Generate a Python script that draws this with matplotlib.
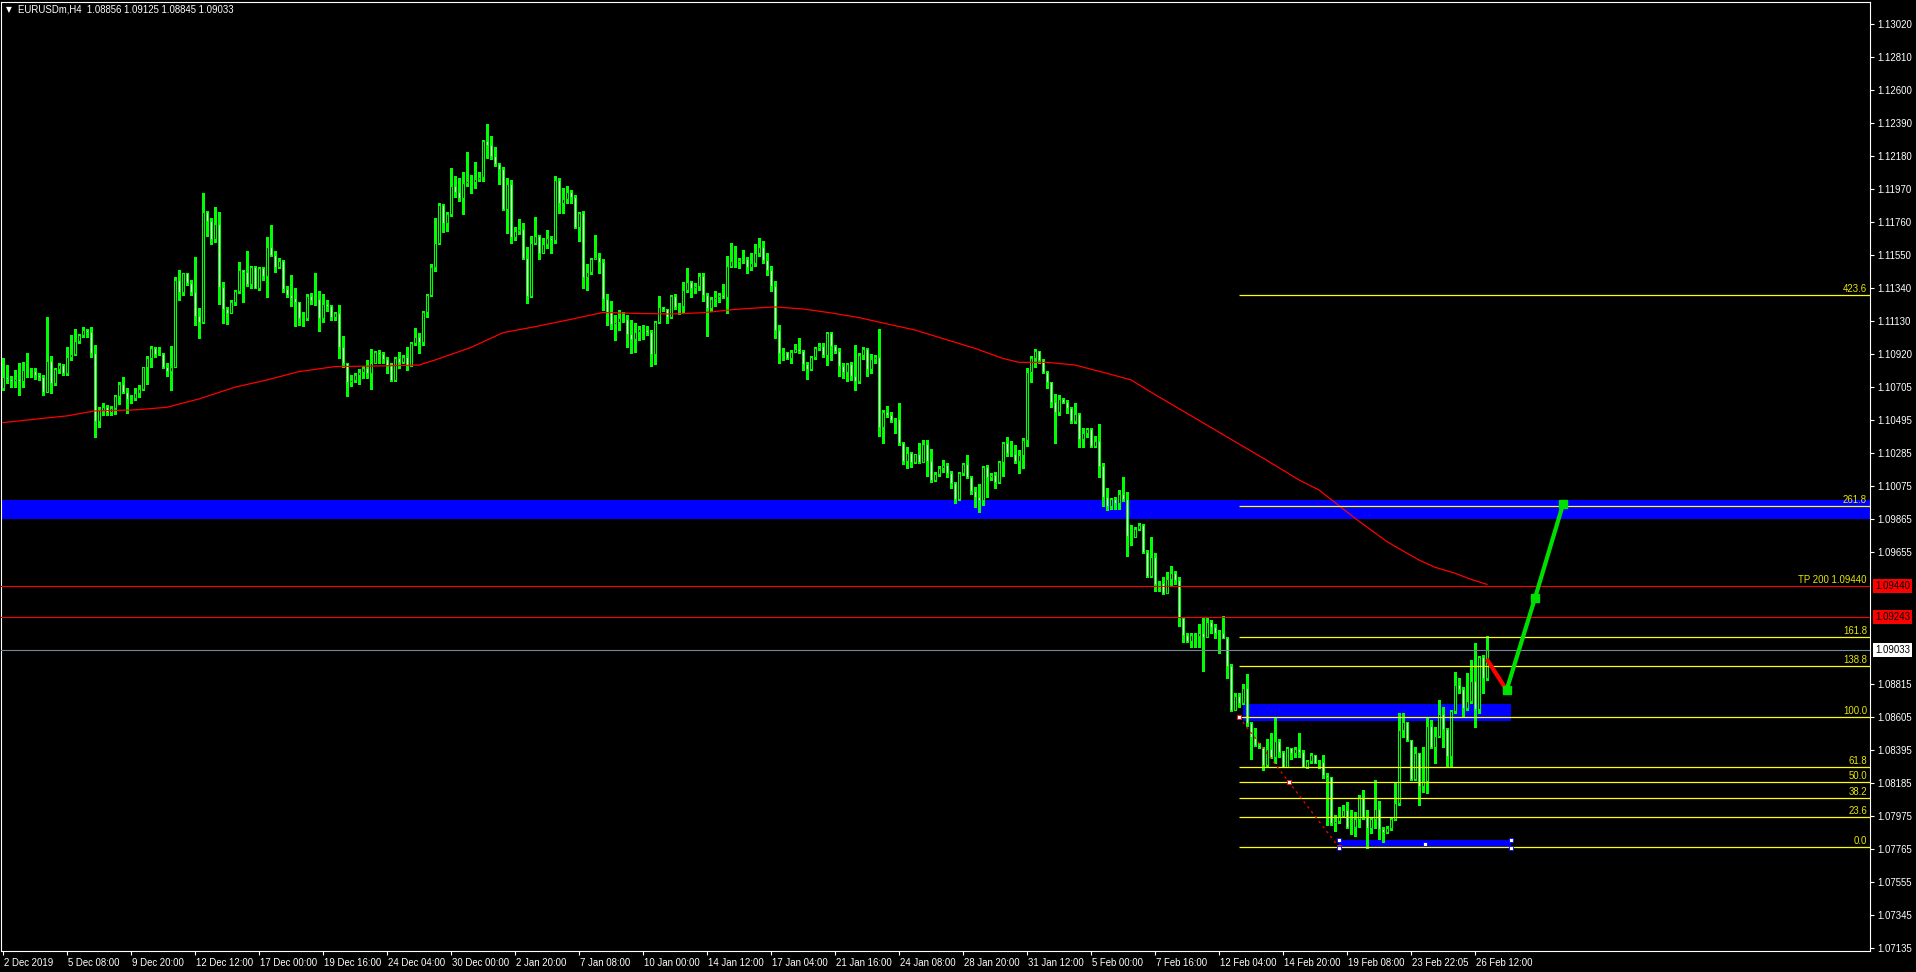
import matplotlib
matplotlib.use("Agg")
import matplotlib.pyplot as plt
from matplotlib.patches import Rectangle
from matplotlib.transforms import ScaledTranslation
import numpy as np

# ---------------------------------------------------------------- data
SYMBOL_TITLE = "EURUSDm,H4  1.08856 1.09125 1.08845 1.09033"
POINT = 1e-5                      # prices below are stored in points

first_open = 110700
closes = [
    110770, 110757, 110749, 110757, 110745, 110817, 110813, 110813, 110785, 110770,
    110679, 110874, 110736, 110821, 110847, 110794, 110898, 110919, 110999, 111040,
    111072, 111061, 110927, 110494, 110562, 110579, 110547, 110577, 110651, 110728,
    110679, 110632, 110639, 110668, 110696, 110834, 110893, 110955, 110919, 110919,
    110834, 110813, 110834, 111390, 111316, 111433, 111369, 111316, 111163, 111125,
    111825, 111768, 111649, 111745, 111348, 111203, 111182, 111248, 111318, 111454,
    111441, 111362, 111471, 111341, 111467, 111418, 111598, 111549, 111471, 111511,
    111331, 111295, 111273, 111248, 111146, 111150, 111290, 111263, 111267, 111146,
    111235, 111225, 111152, 111178, 110965, 110859, 110743, 110753, 110785, 110806,
    110828, 110800, 110864, 110929, 110919, 110884, 110848, 110752, 110890, 110869,
    110897, 110842, 110986, 111024, 110997, 111188, 111292, 111470, 111623, 111865,
    111754, 111810, 111988, 111952, 111909, 112009, 112022, 112016, 112033, 112047,
    112275, 112249, 112179, 112126, 112094, 111839, 112001, 111661, 111701, 111714,
    111527, 111290, 111623, 111670, 111559, 111619, 111655, 111644, 112026, 111878,
    111903, 111948, 111916, 111729, 111814, 111410, 111440, 111521, 111538, 111506,
    111266, 111188, 111109, 111122, 111145, 111141, 111045, 111016, 111058, 111079,
    111071, 111060, 110918, 111122, 111215, 111202, 111152, 111287, 111215, 111224,
    111326, 111374, 111340, 111351, 111415, 111294, 111213, 111270, 111279, 111294,
    111283, 111478, 111512, 111506, 111517, 111521, 111470, 111500, 111560, 111600,
    111520, 111450, 111350, 111071, 110927, 110933, 110891, 110933, 110948, 110939,
    110852, 110820, 110901, 110954, 110969, 110912, 111050, 110969, 110939, 110844,
    110806, 110854, 110780, 110748, 110912, 110948, 110820, 110884, 110897, 110455,
    110551, 110532, 110498, 110502, 110349, 110239, 110290, 110232, 110279, 110232,
    110343, 110237, 110116, 110152, 110194, 110209, 110158, 110099, 109993, 110158,
    110218, 110133, 110048, 110009, 109988, 110196, 110133, 110145, 110105, 110230,
    110349, 110290, 110279, 110237, 110275, 110370, 110801, 110891, 110937, 110880,
    110806, 110738, 110615, 110551, 110629, 110615, 110572, 110494, 110536, 110375,
    110413, 110440, 110334, 110364, 110207, 110009, 109952, 109995, 109967, 110026,
    109995, 109761, 109755, 109802, 109829, 109660, 109507, 109623, 109454, 109458,
    109394, 109483, 109522, 109479, 109239, 109129, 109093, 109129, 109122, 109144,
    109118, 109209, 109182, 109144, 109139, 109112, 108933, 108651, 108740, 108694,
    108789, 108566, 108481, 108428, 108418, 108301, 108401, 108354, 108454, 108386,
    108290, 108407, 108379, 108401, 108386, 108290, 108326, 108362, 108316, 108322,
    108237, 108227, 107929, 107946, 107976, 108014, 107908, 107904, 107955, 108089,
    107968, 107898, 107955, 108018, 107891, 107872, 107900, 107955, 108057, 108524,
    108573, 108460, 108210, 108379, 108167, 108199, 108549, 108418, 108486, 108624,
    108528, 108358, 108645, 108810, 108783, 108662, 108711, 108836, 108655, 108991,
    108856, 109033,
]
highs = [
    110891, 110849, 110779, 110817, 110859, 110870, 110923, 110828, 110828, 110796,
    110785, 111157, 110906, 110828, 110864, 110853, 110965, 111040, 111076, 111046,
    111087, 111078, 111093, 110976, 110583, 110605, 110594, 110588, 110658, 110743,
    110774, 110700, 110658, 110700, 110721, 110838, 110906, 110970, 110965, 110965,
    110923, 110864, 110970, 111411, 111450, 111437, 111433, 111390, 111534, 111210,
    111942, 111830, 111783, 111853, 111825, 111379, 111220, 111263, 111326, 111507,
    111454, 111577, 111479, 111479, 111471, 111471, 111666, 111740, 111571, 111528,
    111517, 111352, 111422, 111337, 111252, 111188, 111301, 111305, 111433, 111322,
    111301, 111263, 111231, 111188, 111231, 111033, 110864, 110785, 110796, 110821,
    110842, 110881, 110949, 110940, 110944, 110933, 110897, 110859, 110901, 110933,
    110912, 110965, 110992, 111081, 111054, 111194, 111298, 111491, 111786, 111882,
    111871, 111824, 112100, 112052, 112037, 112079, 112207, 112058, 112143, 112079,
    112281, 112383, 112306, 112238, 112137, 112107, 112037, 112026, 111729, 111778,
    111750, 111597, 111670, 111793, 111676, 111655, 111708, 111670, 112052, 112037,
    111973, 111988, 111962, 111931, 111824, 111831, 111491, 111527, 111676, 111559,
    111521, 111300, 111258, 111166, 111198, 111188, 111166, 111135, 111113, 111096,
    111103, 111096, 111071, 111130, 111287, 111219, 111177, 111294, 111298, 111241,
    111374, 111464, 111385, 111372, 111436, 111436, 111309, 111283, 111321, 111309,
    111364, 111542, 111623, 111606, 111527, 111580, 111538, 111560, 111620, 111660,
    111640, 111560, 111480, 111380, 111100, 110954, 110933, 110944, 110982, 111018,
    110944, 110869, 110908, 110961, 110986, 110986, 111060, 111060, 110975, 110954,
    110863, 110859, 110869, 110975, 110927, 110965, 110954, 110918, 110912, 111080,
    110561, 110587, 110547, 110508, 110604, 110360, 110328, 110296, 110281, 110349,
    110370, 110370, 110311, 110169, 110205, 110243, 110222, 110175, 110105, 110169,
    110226, 110275, 110141, 110073, 110090, 110205, 110211, 110158, 110169, 110237,
    110360, 110387, 110364, 110339, 110307, 110381, 110831, 110905, 110950, 110897,
    110888, 110812, 110742, 110663, 110657, 110636, 110625, 110583, 110604, 110540,
    110445, 110449, 110445, 110396, 110472, 110226, 110063, 109999, 110005, 110052,
    110137, 110041, 109829, 109819, 109844, 109836, 109670, 109755, 109649, 109473,
    109496, 109532, 109568, 109539, 109496, 109241, 109139, 109139, 109139, 109199,
    109241, 109241, 109224, 109197, 109161, 109250, 109118, 108944, 108757, 108757,
    108817, 108880, 108577, 108534, 108439, 108418, 108464, 108503, 108609, 108464,
    108392, 108418, 108407, 108418, 108503, 108396, 108333, 108375, 108365, 108333,
    108365, 108248, 108227, 107982, 108035, 108046, 108067, 108014, 108004, 108110,
    108142, 108014, 107972, 108205, 108074, 107908, 107912, 107972, 108195, 108630,
    108630, 108577, 108418, 108418, 108220, 108418, 108598, 108587, 108545, 108715,
    108672, 108534, 108651, 108895, 108853, 108800, 108885, 108970, 109080, 108995,
    109001, 109125,
]
lows = [
    110690, 110732, 110707, 110707, 110658, 110711, 110774, 110774, 110757, 110753,
    110658, 110675, 110668, 110721, 110796, 110787, 110785, 110881, 110912, 110987,
    111025, 111029, 110902, 110392, 110456, 110530, 110530, 110530, 110537, 110600,
    110668, 110545, 110609, 110626, 110647, 110690, 110728, 110838, 110902, 110912,
    110828, 110779, 110690, 110834, 111263, 111295, 111358, 111295, 111103, 111023,
    111118, 111670, 111619, 111634, 111237, 111118, 111110, 111220, 111231, 111305,
    111252, 111352, 111337, 111337, 111326, 111390, 111284, 111543, 111443, 111464,
    111316, 111284, 111225, 111099, 111103, 111099, 111135, 111237, 111231, 111067,
    111125, 111193, 111135, 111135, 110895, 110838, 110653, 110715, 110743, 110726,
    110764, 110764, 110694, 110859, 110859, 110859, 110795, 110748, 110748, 110827,
    110859, 110816, 110842, 110975, 110926, 110975, 111156, 111287, 111449, 111619,
    111697, 111704, 111797, 111916, 111895, 111810, 111988, 111941, 111973, 112022,
    112022, 112164, 112158, 112115, 112001, 111835, 111691, 111627, 111644, 111682,
    111521, 111241, 111283, 111619, 111521, 111576, 111591, 111563, 111627, 111814,
    111814, 111878, 111882, 111718, 111640, 111336, 111326, 111427, 111527, 111432,
    111198, 111103, 111075, 111007, 111071, 111124, 110960, 110922, 110933, 111007,
    111011, 111039, 110842, 110854, 111113, 111194, 111113, 111145, 111202, 111173,
    111177, 111315, 111283, 111309, 111326, 111258, 111033, 111194, 111224, 111251,
    111273, 111177, 111470, 111474, 111464, 111495, 111436, 111450, 111480, 111540,
    111500, 111420, 111320, 111020, 110859, 110880, 110884, 110863, 110933, 110927,
    110816, 110761, 110816, 110884, 110944, 110901, 110848, 110880, 110927, 110780,
    110763, 110748, 110753, 110689, 110736, 110884, 110778, 110799, 110859, 110396,
    110353, 110515, 110487, 110417, 110339, 110218, 110190, 110201, 110226, 110226,
    110264, 110141, 110105, 110111, 110143, 110169, 110137, 110067, 109971, 109988,
    110147, 110126, 110024, 109942, 109914, 109956, 110009, 110116, 110063, 110099,
    110143, 110269, 110269, 110226, 110162, 110194, 110332, 110742, 110837, 110863,
    110795, 110699, 110578, 110353, 110530, 110608, 110544, 110481, 110481, 110324,
    110324, 110392, 110324, 110324, 110137, 109952, 109925, 109931, 109931, 109931,
    109984, 109632, 109702, 109755, 109798, 109653, 109500, 109500, 109411, 109411,
    109390, 109454, 109441, 109454, 109188, 109086, 109086, 109050, 109050, 109050,
    108902, 109144, 109144, 109108, 109016, 109108, 108853, 108647, 108655, 108672,
    108689, 108549, 108337, 108422, 108407, 108269, 108294, 108343, 108311, 108354,
    108286, 108333, 108337, 108354, 108354, 108286, 108280, 108311, 108311, 108280,
    108216, 107919, 107919, 107883, 107929, 107972, 107898, 107861, 107849, 107908,
    107955, 107770, 107866, 107898, 107827, 107813, 107870, 107887, 107951, 108046,
    108481, 108456, 108205, 108205, 108046, 108131, 108125, 108407, 108311, 108481,
    108418, 108294, 108294, 108630, 108757, 108609, 108651, 108698, 108545, 108630,
    108757, 108845,
]

# 200-period moving average, sampled along the chart (bar index, value in points)
ma_bars = [0, 8, 16, 23, 33, 41, 49, 58, 66, 74, 83, 94, 104, 108, 117, 125, 133,
           142, 150, 158, 167, 175, 183, 187, 193, 200, 207, 214, 221, 228, 234,
           243, 250, 254, 261, 268, 276, 282, 288, 295, 302, 309, 316, 324, 329,
           338, 346, 350, 354, 358, 363, 367, 371]
ma_values = [110481, 110503, 110524, 110556, 110562, 110579, 110632, 110707, 110753,
             110806, 110838, 110842, 110848, 110880, 110960, 111054, 111092, 111139,
             111183, 111177, 111173, 111181, 111202, 111209, 111218, 111205, 111180,
             111150, 111110, 111071, 111024, 110954, 110890, 110865, 110865, 110848,
             110795, 110753, 110660, 110555, 110450, 110345, 110240, 110116, 110052,
             109872, 109723, 109664, 109606, 109560, 109522, 109483, 109451]

time_labels = ["2 Dec 2019", "5 Dec 08:00", "9 Dec 20:00", "12 Dec 12:00",
               "17 Dec 00:00", "19 Dec 16:00", "24 Dec 04:00", "30 Dec 00:00",
               "2 Jan 20:00", "7 Jan 08:00", "10 Jan 00:00", "14 Jan 12:00",
               "17 Jan 04:00", "21 Jan 16:00", "24 Jan 08:00", "28 Jan 20:00",
               "31 Jan 12:00", "5 Feb 00:00", "7 Feb 16:00", "12 Feb 04:00",
               "14 Feb 20:00", "19 Feb 08:00", "23 Feb 22:05", "26 Feb 12:00"]
BARS_PER_LABEL = 16

price_ticks = [1.13020, 1.12810, 1.12600, 1.12390, 1.12180, 1.11970, 1.11760,
               1.11550, 1.11340, 1.11130, 1.10920, 1.10705, 1.10495, 1.10285,
               1.10075, 1.09865, 1.09655, 1.08815, 1.08605, 1.08395, 1.08185,
               1.07975, 1.07765, 1.07555, 1.07345, 1.07135]

# Fibonacci retracement / extension
fib_levels = [0.0, 23.6, 38.2, 50.0, 61.8, 100.0, 138.8, 161.8, 261.8, 423.6]
fib_price_100 = 1.08606
fib_price_0 = 1.07776
fib_bar_100 = 309
fib_bar_0 = 334

# horizontal levels
tp_levels = [1.09440, 1.09243]
tp_caption = "TP 200 1.09440"
bid_price = 1.09033

# supply / demand zones
wide_zone = (1.09867, 1.09988)
mid_zone_bars = (310, 377)
mid_zone_prices = (1.08583, 1.08689)
low_zone_bars = (334, 377)
low_zone_prices = (1.07772, 1.07823)

# projected path
pullback_bars = [370.9, 375.9]
pullback_prices = [1.08976, 1.08778]
target_bars = [375.9, 383.0, 390.0]
target_prices = [1.08778, 1.09364, 1.09961]

# ---------------------------------------------------------------- style
BG = "black"
LIME = "#00ff00"
YELLOW = "#ffff00"
FIB_TEXT = "#e6e60a"
BLUE = "#0000ff"
RED = "#ff0000"
BID_GREY = "#778899"
PATH_GREEN = "#00e000"
FONT = "Liberation Sans"
FS = 6.9

W, H = 1916, 972
fig = plt.figure(figsize=(W / 100, H / 100), dpi=100, facecolor=BG)
ax_left, ax_right, ax_top, ax_bottom = 1, 1870, 2, 951
ax = fig.add_axes([ax_left / W, (H - ax_bottom) / H,
                   (ax_right - ax_left) / W, (ax_bottom - ax_top) / H])
ax.set_facecolor(BG)
ax.set_xlim(-0.5, 466.75)
ax.set_ylim(1.07116, 1.13160)

for s in ax.spines.values():
    s.set_color("white")
    s.set_linewidth(0.8)

# zones (background objects)
ax.axhspan(*wide_zone, color=BLUE, lw=0, zorder=1)
ax.add_patch(Rectangle((mid_zone_bars[0], mid_zone_prices[0]),
                       mid_zone_bars[1] - mid_zone_bars[0],
                       mid_zone_prices[1] - mid_zone_prices[0],
                       color=BLUE, lw=0, zorder=1))
ax.add_patch(Rectangle((low_zone_bars[0], low_zone_prices[0]),
                       low_zone_bars[1] - low_zone_bars[0],
                       low_zone_prices[1] - low_zone_prices[0],
                       color=BLUE, lw=0, zorder=1))

# candles
c = np.array(closes) * POINT
o = np.array([first_open] + closes[:-1]) * POINT
hi = np.array(highs) * POINT
lo = np.array(lows) * POINT
x = np.arange(len(c))
top = np.maximum(hi, np.maximum(o, c))
bot = np.minimum(lo, np.minimum(o, c))
ax.vlines(x, bot, top, color=LIME, lw=0.8, zorder=2, antialiased=False)
bull = c >= o
body_face = np.where(bull, "black", "white")
ax.bar(x, c - o, bottom=o, width=0.5, color=body_face, edgecolor=LIME,
       linewidth=0.8, zorder=2.1)

# moving average
ax.plot(ma_bars, np.array(ma_values) * POINT, color=RED, lw=0.9, zorder=2.5)

# horizontal lines
for p in tp_levels:
    ax.axhline(p, color=RED, lw=0.8, zorder=3)
ax.axhline(bid_price, color=BID_GREY, lw=0.8, zorder=3)

# fibonacci
span = fib_price_100 - fib_price_0
fib_prices = [fib_price_0 + lv / 100.0 * span for lv in fib_levels]
xmax = ax.get_xlim()[1]
ax.hlines(fib_prices, fib_bar_100, xmax, color=YELLOW, lw=0.9, zorder=3)
ax.plot([fib_bar_100, fib_bar_0], [fib_price_100, fib_price_0], color=RED,
        lw=0.9, ls=(0, (2, 3)), zorder=3.2)
ax.plot([fib_bar_100, (fib_bar_100 + fib_bar_0) / 2, fib_bar_0],
        [fib_price_100, (fib_price_100 + fib_price_0) / 2, fib_price_0],
        ls="none", marker="s", ms=3.2, mfc="white", mec=RED, mew=0.6, zorder=3.3)

# rectangle handles
zx0, zx1 = low_zone_bars
zy0, zy1 = low_zone_prices
ax.plot([zx0, zx1, zx0, zx1, (zx0 + zx1) / 2],
        [zy1, zy1, zy0, zy0, (zy0 + zy1) / 2],
        ls="none", marker="s", ms=3.2, mfc="white", mec=BLUE, mew=0.6, zorder=3.4)

ytr = ax.get_yaxis_transform()
for lv, p in zip(fib_levels, fib_prices):
    ax.annotate(f"{lv:.1f}", xy=(1.0, p), xycoords=ytr, xytext=(-3, 1),
                textcoords="offset pixels", ha="right", va="bottom",
                color=FIB_TEXT, fontsize=FS, family=FONT, zorder=4)
ax.annotate(tp_caption, xy=(1.0, tp_levels[0]), xycoords=ytr, xytext=(-3, 1),
            textcoords="offset pixels", ha="right", va="bottom",
            color=FIB_TEXT, fontsize=FS, family=FONT, zorder=4)

# projected path
ax.plot(pullback_bars, pullback_prices, color=RED, lw=3.0, zorder=5,
        solid_capstyle="butt")
ax.plot(target_bars, target_prices, color=PATH_GREEN, lw=3.0, zorder=5,
        solid_capstyle="butt")
ax.plot(target_bars, target_prices, ls="none", marker="s", ms=6,
        color=PATH_GREEN, zorder=5.1)

# axes ticks
ax.set_xticks([i * BARS_PER_LABEL for i in range(len(time_labels))])
ax.set_xticklabels(time_labels)
ax.tick_params(axis="x", colors="white", direction="out", length=3.2,
               width=0.8, pad=1.5, labelsize=FS)
shift = ScaledTranslation(1 / 100, 0, fig.dpi_scale_trans)
for t in ax.get_xticklabels():
    t.set_horizontalalignment("left")
    t.set_fontfamily(FONT)
    t.set_transform(t.get_transform() + shift)

ax.yaxis.tick_right()
ax.set_yticks(price_ticks)
ax.set_yticklabels([f"{p:.5f}" for p in price_ticks])
ax.tick_params(axis="y", colors="white", direction="out", length=3.2,
               width=0.8, pad=2, labelsize=FS)
for t in ax.get_yticklabels():
    t.set_fontfamily(FONT)

# price tags on the scale
for p, fc in [(tp_levels[0], RED), (tp_levels[1], RED), (bid_price, "white")]:
    ax.text(1.0 + 5 / 1869, p, f"{p:.5f}", transform=ytr, ha="left",
            va="center", color="black", fontsize=FS, family=FONT,
            clip_on=False, zorder=6,
            bbox=dict(boxstyle="square,pad=0.25", fc=fc, ec=fc, lw=0))

# title
fig.text(6 / W, 1 - 10 / H, "\u25BC", color="white", fontsize=5.5,
         family="DejaVu Sans", va="center", ha="left")
fig.text(18 / W, 1 - 10 / H, SYMBOL_TITLE, color="white", fontsize=FS,
         family=FONT, va="center", ha="left")

fig.savefig("out.png", dpi=100, facecolor=BG)
